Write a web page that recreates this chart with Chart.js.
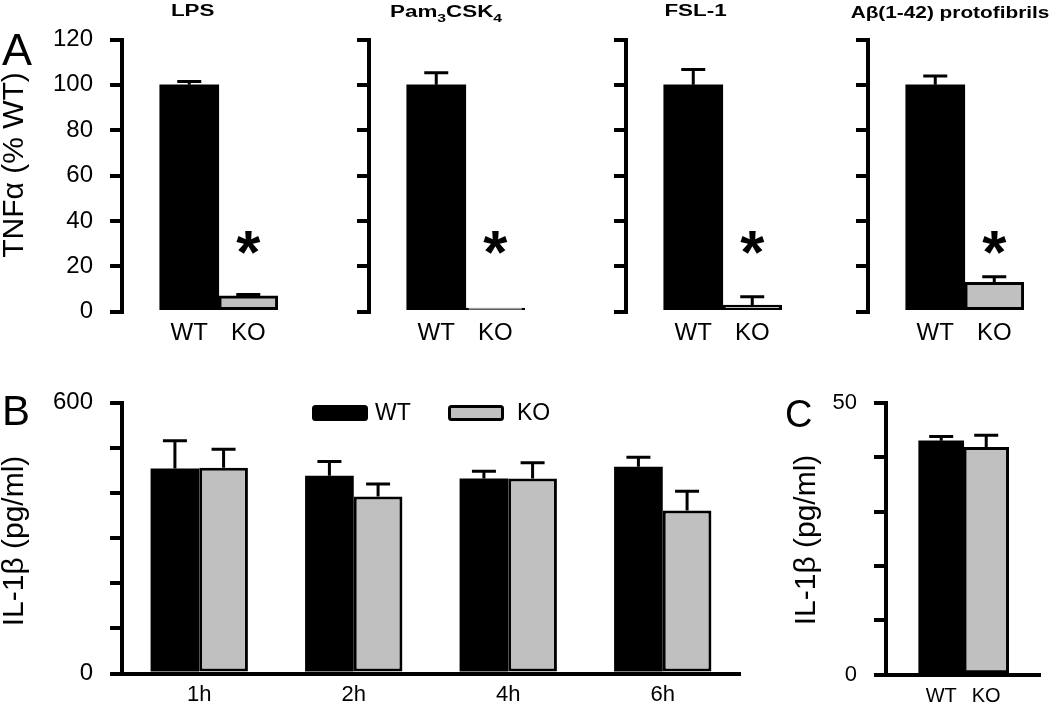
<!DOCTYPE html>
<html>
<head>
<meta charset="utf-8">
<script src="https://cdn.jsdelivr.net/npm/chart.js@4.4.1/dist/chart.umd.min.js"></script>
<style>
  body { margin: 0; background: #fff; }
  #fig { position: relative; width: 1050px; height: 705px; }
  #fig canvas { position: absolute; left: 0; top: 0; }
</style>
</head>
<body>
<div id="fig">
  <canvas id="a0" width="1050" height="705"></canvas>
  <canvas id="a1" width="1050" height="705"></canvas>
  <canvas id="a2" width="1050" height="705"></canvas>
  <canvas id="a3" width="1050" height="705"></canvas>
  <canvas id="b" width="1050" height="705"></canvas>
  <canvas id="c" width="1050" height="705"></canvas>
</div>
<script>
const FONT = 'Liberation Sans, Arial, sans-serif';
const BLACK = '#000000';
const GREY = '#c0c0c0';

// panel A - TNFa as % of WT
const stimuli = ['LPS', 'Pam3CSK4', 'FSL-1', 'Aβ(1-42) protofibrils'];
const genotypes = ['WT', 'KO'];
const tnfMean = [[100, 7], [100, 1.6], [100, 2.9], [100, 12.9]];
const tnfErr = [[1.5, 0.6], [5.3, 0], [6.8, 3.7], [3.9, 2.5]];
const tnfTicks = [0, 20, 40, 60, 80, 100, 120];

// panel B - IL-1b time course
const timePoints = ['1h', '2h', '4h', '6h'];
const il1bWT = [454, 438, 432, 458];
const il1bWTErr = [62, 32, 16, 21];
const il1bKO = [456, 392, 432, 361];
const il1bKOErr = [41, 28, 35, 43];
const il1bBTicks = [0, 600];

// panel C
const il1bC = [43.0, 41.8];
const il1bCErr = [0.8, 2.2];
const il1bCTicks = [0, 50];

// error bars (upper only), drawn from the bar top
Chart.register({
  id: 'errorBars',
  afterDatasetsDraw(chart) {
    const ctx = chart.ctx;
    const ys = chart.scales.y;
    chart.data.datasets.forEach((ds, i) => {
      if (!ds.errors) return;
      chart.getDatasetMeta(i).data.forEach((bar, j) => {
        const err = ds.errors[j];
        if (!err) return;
        const d = ds.data[j];
        const v = typeof d === 'object' ? d.y : d;
        const top = ys.getPixelForValue(v + err);
        ctx.save();
        ctx.strokeStyle = BLACK;
        ctx.lineWidth = 3;
        ctx.beginPath();
        ctx.moveTo(bar.x, bar.y);
        ctx.lineTo(bar.x, top);
        ctx.moveTo(bar.x - 12, top);
        ctx.lineTo(bar.x + 12, top);
        ctx.stroke();
        ctx.restore();
      });
    });
  }
});

// significance star over the KO bar
Chart.register({
  id: 'star',
  afterDatasetsDraw(chart, args, opts) {
    if (opts.level == null) return;
    const ctx = chart.ctx;
    const x = chart.scales.x.getPixelForValue(1);
    const y = chart.scales.y.getPixelForValue(opts.level);
    ctx.save();
    ctx.font = 'bold 62px ' + FONT;
    ctx.fillStyle = BLACK;
    ctx.textAlign = 'center';
    const m = ctx.measureText('*');
    ctx.fillText('*', x, y + (m.actualBoundingBoxAscent - m.actualBoundingBoxDescent) / 2);
    ctx.restore();
  }
});

// free text: panel letters, axis titles, stimulus titles
Chart.register({
  id: 'notes',
  afterDraw(chart, args, opts) {
    const ctx = chart.ctx;
    (opts.items || []).forEach(n => {
      ctx.save();
      ctx.fillStyle = BLACK;
      ctx.textBaseline = 'alphabetic';
      ctx.translate(n.x, n.y);
      if (n.rotate) ctx.rotate(n.rotate);
      if (n.sx) ctx.scale(n.sx, 1);
      if (n.parts) {
        const size = n.size;
        let total = 0;
        n.parts.forEach(p => {
          ctx.font = n.weight + ' ' + (p.sub ? size * 0.7 : size) + 'px ' + FONT;
          p.w = ctx.measureText(p.t).width;
          total += p.w;
        });
        let cx = -total / 2;
        n.parts.forEach(p => {
          ctx.font = n.weight + ' ' + (p.sub ? size * 0.7 : size) + 'px ' + FONT;
          ctx.fillText(p.t, cx, p.sub ? size * 0.3 : 0);
          cx += p.w;
        });
      } else {
        ctx.font = n.font;
        ctx.textAlign = n.align || 'left';
        ctx.fillText(n.text, 0, 0);
      }
      ctx.restore();
    });
  }
});

// boxed swatch legend for panel B
Chart.register({
  id: 'swatchLegend',
  afterDraw(chart, args, opts) {
    if (!opts.items) return;
    const ctx = chart.ctx;
    chart.data.datasets.forEach((ds, i) => {
      const it = opts.items[i];
      ctx.save();
      ctx.fillStyle = ds.backgroundColor;
      ctx.strokeStyle = BLACK;
      ctx.lineWidth = 3;
      ctx.beginPath();
      ctx.roundRect(it.x + 1.5, opts.y - 6.5, 53, 13, 2);
      ctx.fill();
      ctx.stroke();
      ctx.fillStyle = BLACK;
      ctx.font = '23px ' + FONT;
      ctx.textBaseline = 'middle';
      ctx.fillText(ds.label, it.tx, opts.y + 1);
      ctx.restore();
    });
  }
});

const AXIS_W = 80;

function yAxis(max, step, shown, size) {
  return {
    min: 0,
    max: max,
    ticks: {
      stepSize: step,
      display: shown !== null,
      callback: v => (shown && shown.includes(v)) ? v : '',
      font: { size: size, family: FONT },
      color: BLACK,
      padding: 17
    },
    grid: { drawOnChartArea: false, drawTicks: true, tickLength: 12, lineWidth: 4, color: BLACK },
    border: { display: true, width: 4, color: BLACK },
    afterFit: s => { s.width = AXIS_W; }
  };
}

function baseOptions(area, xAxis, yAx, plugins) {
  return {
    responsive: false,
    animation: false,
    events: [],
    layout: {
      padding: {
        left: area.left - AXIS_W,
        right: 1050 - area.right,
        top: area.top,
        bottom: 705 - area.bottom - 30
      }
    },
    scales: { x: xAxis, y: yAx },
    plugins: Object.assign({ legend: { display: false }, tooltip: { enabled: false } }, plugins)
  };
}

// ---- panel A: four small charts
const areaLeftA = [122, 369, 626, 868];
const xMinA = -1.14, xMaxA = 1.6, barA = 59;
const titleX = [192.7, 446, 695.5, 950];
const titleY = [15.5, 17, 15.5, 18];
const titleSX = [1.4, 1.4, 1.4, 1.3];

stimuli.forEach((name, k) => {
  const left = areaLeftA[k];
  const area = { left: left, right: left + (xMaxA - xMinA) * barA, top: 39.5, bottom: 311.7 };
  const items = [];
  if (name === 'Pam3CSK4') {
    items.push({ x: titleX[k], y: titleY[k], sx: titleSX[k], size: 16, weight: 'bold',
      parts: [{ t: 'Pam' }, { t: '3', sub: true }, { t: 'CSK' }, { t: '4', sub: true }] });
  } else {
    items.push({ text: name, x: titleX[k], y: titleY[k], sx: titleSX[k], align: 'center', font: 'bold 16px ' + FONT });
  }
  if (k === 0) {
    items.push({ text: 'A', x: 2, y: 65, font: '45px ' + FONT });
    items.push({ text: 'TNFα (% WT)', x: 23, y: 165, rotate: -Math.PI / 2, align: 'center', font: '30px ' + FONT });
  }
  new Chart(document.getElementById('a' + k), {
    type: 'bar',
    data: {
      datasets: [{
        data: genotypes.map((g, i) => ({ x: i, y: tnfMean[k][i] })),
        errors: tnfErr[k],
        backgroundColor: [BLACK, GREY],
        borderColor: BLACK,
        borderWidth: [0, 3],
        borderSkipped: false,
        barThickness: barA
      }]
    },
    options: baseOptions(area, {
      type: 'linear',
      offset: false,
      min: xMinA,
      max: xMaxA,
      afterBuildTicks: s => { s.ticks = genotypes.map((g, i) => ({ value: i })); },
      ticks: { callback: v => genotypes[v], font: { size: 24, family: FONT }, color: BLACK, padding: 7 },
      grid: { display: false, drawTicks: false },
      border: { display: false },
      afterFit: s => { s.height = 30; }
    }, yAxis(120, 20, k === 0 ? tnfTicks : null, 24), {
      star: { level: 30.6 },
      notes: { items: items }
    })
  });
});

// ---- panel B: time course
new Chart(document.getElementById('b'), {
  type: 'bar',
  data: {
    labels: timePoints,
    datasets: [
      { label: 'WT', data: il1bWT, errors: il1bWTErr, backgroundColor: BLACK, borderColor: BLACK, borderWidth: 0 },
      { label: 'KO', data: il1bKO, errors: il1bKOErr, backgroundColor: GREY, borderColor: BLACK, borderWidth: 3, borderSkipped: false }
    ]
  },
  options: Object.assign(baseOptions({ left: 122, right: 740, top: 402.7, bottom: 675 }, {
    grid: { display: false, drawTicks: false },
    border: { display: true, width: 4, color: BLACK },
    ticks: { font: { size: 22, family: FONT }, color: BLACK, padding: 8 },
    afterFit: s => { s.height = 30; }
  }, yAxis(600, 100, il1bBTicks, 24), {
    swatchLegend: { y: 413, items: [{ x: 312, tx: 375 }, { x: 448, tx: 517 }] },
    notes: { items: [
      { text: 'B', x: 2, y: 425, font: '42px ' + FONT },
      { text: 'IL-1β (pg/ml)', x: 23, y: 541, rotate: -Math.PI / 2, align: 'center', font: '30px ' + FONT }
    ] }
  }), { categoryPercentage: 0.63, barPercentage: 1 })
});

// ---- panel C
const xMinC = -1.227, xMaxC = 2.196, barC = 45;
new Chart(document.getElementById('c'), {
  type: 'bar',
  data: {
    datasets: [{
      data: genotypes.map((g, i) => ({ x: i, y: il1bC[i] })),
      errors: il1bCErr,
      backgroundColor: [BLACK, GREY],
      borderColor: BLACK,
      borderWidth: [0, 3],
      borderSkipped: false,
      barThickness: barC
    }]
  },
  options: baseOptions({ left: 886, right: 886 + (xMaxC - xMinC) * barC, top: 402.7, bottom: 675 }, {
    type: 'linear',
    offset: false,
    min: xMinC,
    max: xMaxC,
    afterBuildTicks: s => { s.ticks = genotypes.map((g, i) => ({ value: i })); },
    ticks: { callback: v => genotypes[v], font: { size: 20, family: FONT }, color: BLACK, padding: 10 },
    grid: { display: false, drawTicks: false },
    border: { display: true, width: 4, color: BLACK },
    afterFit: s => { s.height = 30; }
  }, yAxis(50, 10, il1bCTicks, 22), {
    notes: { items: [
      { text: 'C', x: 785, y: 427, font: '38px ' + FONT },
      { text: 'IL-1β (pg/ml)', x: 815, y: 540, rotate: -Math.PI / 2, align: 'center', font: '30px ' + FONT }
    ] }
  })
});
</script>
</body>
</html>
